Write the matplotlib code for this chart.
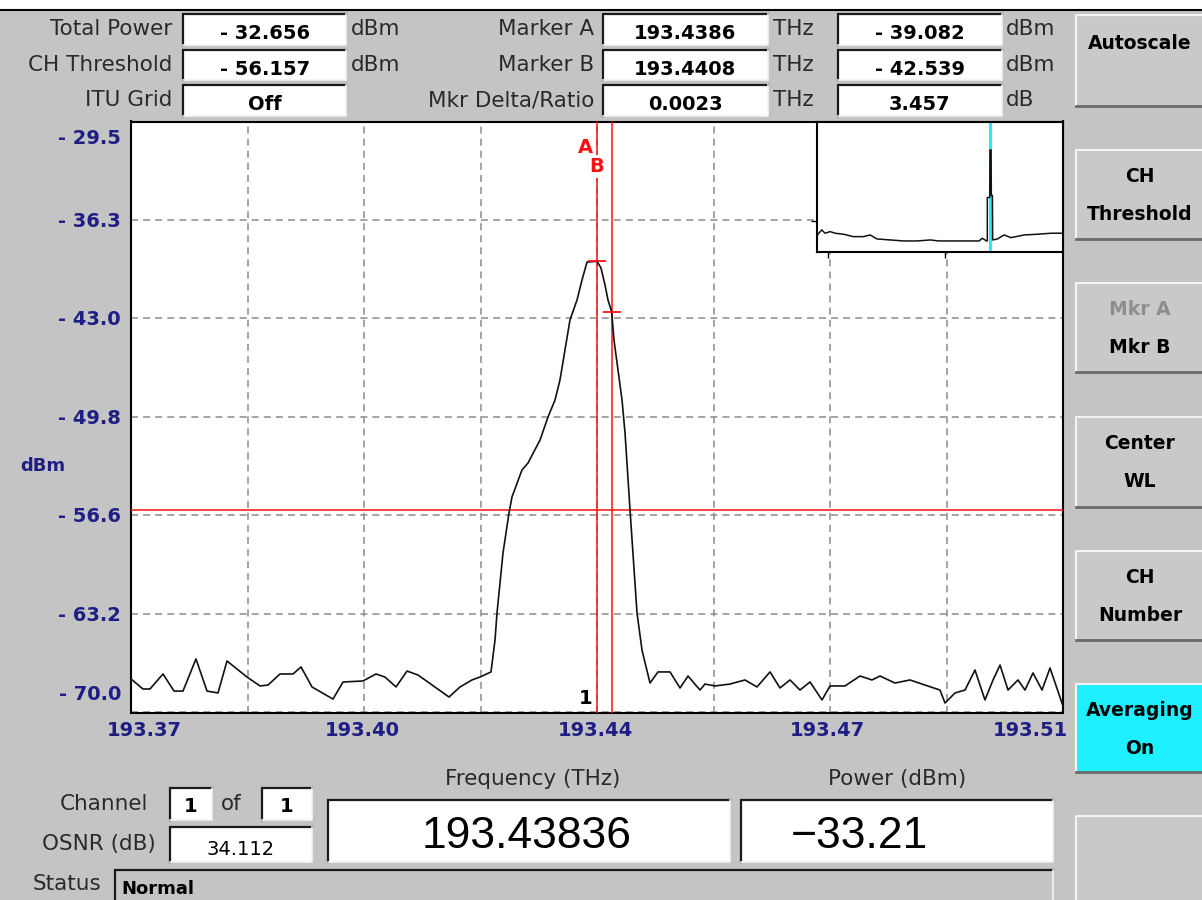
import numpy as np
import matplotlib
matplotlib.use("Agg")
import matplotlib.pyplot as plt
from matplotlib.patches import Rectangle
from matplotlib import transforms as mtrans

# ---------------------------------------------------------------- data ----
# Zoomed channel trace
freq_thz = [
    193.36860, 193.37040, 193.37145, 193.37341, 193.37506, 193.37641, 193.37836,
    193.38002, 193.38167, 193.38302, 193.38602, 193.38798, 193.38918, 193.39098,
    193.39293, 193.39414, 193.39579, 193.39894, 193.40045, 193.40345, 193.40540,
    193.40675, 193.40841, 193.41006, 193.41171, 193.41637, 193.41802, 193.41982,
    193.42103, 193.42268, 193.42328, 193.42358, 193.42448, 193.42538, 193.42583,
    193.42733, 193.42824, 193.43004, 193.43124, 193.43229, 193.43304, 193.43379,
    193.43454, 193.43560, 193.43635, 193.43710, 193.43860, 193.43920, 193.43980,
    193.44025, 193.44080, 193.44115, 193.44236, 193.44281, 193.44356, 193.44461,
    193.44536, 193.44656, 193.44776, 193.44957, 193.45107, 193.45227, 193.45407,
    193.45482, 193.45633, 193.45858, 193.46083, 193.46263, 193.46459, 193.46609,
    193.46759, 193.46909, 193.47060, 193.47240, 193.47360, 193.47585, 193.47811,
    193.47991, 193.48111, 193.48336, 193.48562, 193.48787, 193.49012, 193.49088,
    193.49238, 193.49388, 193.49538, 193.49688, 193.49809, 193.49914, 193.50034,
    193.50184, 193.50289, 193.50409, 193.50545, 193.50665, 193.50860,
]
power_dbm = [
    -67.70, -68.39, -68.39, -67.36, -68.53, -68.53, -66.33,
    -68.53, -68.66, -66.47, -67.57, -68.18, -68.12, -67.36,
    -67.36, -66.88, -68.25, -69.08, -67.91, -67.84, -67.36,
    -67.57, -68.25, -67.16, -67.43, -68.94, -68.25, -67.77,
    -67.57, -67.22, -65.03, -63.18, -59.07, -56.33, -55.23,
    -53.38, -52.90, -51.33, -49.75, -48.59, -47.21, -45.16,
    -43.10, -41.73, -40.36, -39.13, -39.08, -39.54, -40.70,
    -41.73, -42.54, -44.47, -48.59, -50.85, -56.12, -63.18,
    -65.72, -67.98, -67.22, -67.22, -68.32, -67.50, -68.46,
    -68.05, -68.18, -68.05, -67.77, -68.25, -67.22, -68.32,
    -67.77, -68.46, -67.91, -69.14, -68.18, -68.18, -67.50,
    -67.77, -67.50, -67.98, -67.77, -68.12, -68.46, -69.35,
    -68.66, -68.46, -67.09, -69.14, -67.77, -66.75, -68.46,
    -67.77, -68.46, -67.29, -68.46, -66.95, -69.56,
]

# Full-band overview trace
overview_freq = [
    186.96, 187.13, 187.25, 187.44, 187.63, 187.94, 188.31, 188.69, 188.94,
    189.19, 189.69, 190.19, 190.69, 191.19, 191.50, 191.94, 192.44, 193.01,
    193.13, 193.29, 193.32, 193.32, 193.41, 193.42, 193.46, 193.47, 193.51,
    193.52, 193.70, 193.95, 194.20, 194.70, 195.20, 195.70, 196.14,
]
overview_power = [
    -68.85, -66.74, -68.13, -67.46, -68.13, -68.55, -69.56, -69.56, -68.85,
    -70.53, -70.95, -71.37, -71.37, -70.95, -71.37, -71.37, -71.37, -71.37,
    -70.24, -71.37, -71.37, -53.15, -53.15, -33.21, -33.21, -52.30, -52.30,
    -70.95, -70.53, -68.85, -69.98, -68.85, -68.55, -68.13, -68.13,
]
overview_range = (186.95, 196.15)
overview_db_range = (-76.0, -21.3)

# Display scale
center_thz = 193.4386
span_thz = 0.14
top_dbm = -29.5
bottom_dbm = -70.0
x_tick_labels = ["193.37", "193.40", "193.44", "193.47", "193.51"]
y_tick_labels = ["- 29.5", "- 36.3", "- 43.0", "- 49.8", "- 56.6", "- 63.2", "- 70.0"]

# Readouts
total_power = -32.656
ch_threshold = -56.157
itu_grid = "Off"
marker_names = ["A", "B"]
marker_freq = [193.4386, 193.4408]
marker_power = [-39.082, -42.539]
marker_delta_thz = 0.0023
marker_ratio_db = 3.457
channel_index = 1
channel_count = 1
channel_freq = 193.43836
channel_power = -33.21
osnr_db = 34.112
status_text = "Normal"
soft_keys = [["Autoscale"], ["CH", "Threshold"], ["Mkr A", "Mkr B"],
             ["Center", "WL"], ["CH", "Number"], ["Averaging", "On"], []]
active_key = 5

# -------------------------------------------------------------- styling ---
W, H = 1202, 900
BG = "#c4c4c4"
KEY = "#c9c9c9"
NAVY = "#1e1e84"
RED = "#ff1010"
CYAN = "#1ff0ff"
TXT = "#2a2a2a"
LABEL_PT = 15.5

plt.rcParams["font.family"] = ["DejaVu Sans"]


def fmt_signed(v, nd):
    return f"- {abs(v):.{nd}f}" if v < 0 else f"{v:.{nd}f}"


fig = plt.figure(figsize=(W / 100, H / 100), dpi=100, facecolor=BG)
ui = fig.add_axes([0, 0, 1, 1], zorder=0)
ui.set_xlim(0, W)
ui.set_ylim(H, 0)
ui.axis("off")

# title strip
ui.add_patch(Rectangle((0, 0), W, 9, fc="white", ec="none"))
ui.plot([0, W], [10, 10], color="black", lw=1.5)


def sunken(x0, y0, x1, y1, fc="white"):
    ui.add_patch(Rectangle((x0, y0), x1 - x0, y1 - y0, fc=fc, ec="none", zorder=1))
    ui.plot([x0, x0, x1], [y1, y0, y0], color="#1a1a1a", lw=1.6, zorder=2,
            solid_joinstyle="miter")
    ui.plot([x0, x1, x1], [y1, y1, y0], color="#f2f2f2", lw=1.2, zorder=2)


def raised(x0, y0, x1, y1, fc):
    ui.add_patch(Rectangle((x0, y0), x1 - x0, y1 - y0, fc=fc, ec="none", zorder=1))
    ui.plot([x0, x0, x1], [y1, y0, y0], color="#f4f4f4", lw=1.5, zorder=2)
    ui.plot([x0, x1, x1], [y1, y1, y0], color="#6a6a6a", lw=2.0, zorder=2)


def put(x, y, s, ha="left", size=LABEL_PT, weight="normal", color=TXT, family=None):
    kw = {}
    if family:
        kw["family"] = family
    ui.text(x, y, s, ha=ha, va="baseline", fontsize=size, fontweight=weight,
            color=color, zorder=3, **kw)


# header readouts
rows = [(14, 45), (50, 80), (85, 116)]
left_labels = ["Total Power", "CH Threshold", "ITU Grid"]
left_values = [fmt_signed(total_power, 3), fmt_signed(ch_threshold, 3), itu_grid]
left_units = ["dBm", "dBm", ""]
mid_labels = ["Marker A", "Marker B", "Mkr Delta/Ratio"]
mid_values = [f"{marker_freq[0]:.4f}", f"{marker_freq[1]:.4f}", f"{marker_delta_thz:.4f}"]
right_values = [fmt_signed(marker_power[0], 3), fmt_signed(marker_power[1], 3),
                f"{marker_ratio_db:.3f}"]
right_units = ["dBm", "dBm", "dB"]
for i, (y0, y1) in enumerate(rows):
    lab_base = y0 + 21
    val_base = y0 + 25
    put(172, lab_base, left_labels[i], ha="right")
    sunken(183, y0, 346, y1)
    put(265, val_base, left_values[i], ha="center", size=14, weight="bold", color="black")
    if left_units[i]:
        put(351, lab_base, left_units[i])
    put(594, lab_base, mid_labels[i], ha="right")
    sunken(603, y0, 768, y1)
    put(685, val_base, mid_values[i], ha="center", size=14, weight="bold", color="black")
    put(773, lab_base, "THz")
    sunken(838, y0, 1002, y1)
    put(920, val_base, right_values[i], ha="center", size=14, weight="bold", color="black")
    put(1006, lab_base, right_units[i])

# soft keys
key_rows = [(15, 106), (150, 239), (283, 372), (417, 507), (551, 640), (684, 772), (816, 910)]
for k, (y0, y1) in enumerate(key_rows):
    raised(1076, y0, 1204, y1, CYAN if k == active_key else KEY)
    lines = soft_keys[k]
    if len(lines) == 1:
        put(1140, (y0 + 27) + 7, lines[0], ha="center", size=13.5, weight="bold", color="black")
    elif len(lines) == 2:
        for j, s in enumerate(lines):
            col = "#8e8e8e" if s == "Mkr A" else "black"
            put(1140, y0 + 32 + j * 38, s, ha="center", size=13.5, weight="bold", color=col)

# bottom readouts
put(148, 810, "Channel", ha="right")
sunken(170, 788, 212, 820)
put(191, 812, f"{channel_index}", ha="center", size=14, weight="bold", color="black")
put(221, 810, "of")
sunken(262, 788, 312, 820)
put(287, 812, f"{channel_count}", ha="center", size=14, weight="bold", color="black")
put(156, 850, "OSNR (dB)", ha="right")
sunken(170, 827, 312, 862)
put(241, 855, f"{osnr_db:.3f}", ha="center", size=14, color="black")
put(533, 785, "Frequency (THz)", ha="center")
sunken(328, 800, 730, 862)
put(527, 848, f"{channel_freq:.5f}", ha="center", size=32, color="black",
    family="Liberation Sans")
put(897, 785, "Power (dBm)", ha="center")
sunken(741, 800, 1053, 862)
put(859, 848, f"\u2212{abs(channel_power):.2f}", ha="center", size=32, color="black",
    family="Liberation Sans")
put(33, 890, "Status")
sunken(115, 870, 1053, 912, fc=BG)
put(121, 894, status_text, size=13, weight="bold", color="black")

# y-axis unit
put(43, 471, "dBm", ha="center", size=13, weight="bold", color=NAVY)

# ------------------------------------------------------------- spectrum ---
L, R, T, B = 131, 1063, 121.5, 712.5
ax = fig.add_axes([L / W, 1 - B / H, (R - L) / W, (B - T) / H], zorder=2)
ax.set_facecolor("white")
x0, x1 = center_thz - span_thz / 2, center_thz + span_thz / 2
ax.set_xlim(x0, x1)
ax.set_ylim(bottom_dbm, top_dbm)
ax.set_xticks(np.linspace(x0, x1, 9))
ax.set_yticks(np.linspace(top_dbm, bottom_dbm, 7))
ax.tick_params(length=0, labelbottom=False, labelleft=False)
ax.grid(True, color="#8c8c8c", linestyle=(0, (4.6, 3.3)), linewidth=1.1)
for sp in ax.spines.values():
    sp.set_color("black")
    sp.set_linewidth(1.5)

ax.axhline(ch_threshold, color=RED, lw=1.1, zorder=3)
for f in marker_freq:
    ax.axvline(f, color=RED, lw=1.1, zorder=3)
ax.plot(freq_thz, power_dbm, color="#111111", lw=1.2, zorder=4)
ax.plot(marker_freq, marker_power, linestyle="none", marker="_", ms=13, mew=1.3,
        color=RED, zorder=5)

blend = mtrans.blended_transform_factory(ax.transData, ax.transAxes)
label_dx = [13, -1.5, -1.5, -2.5, -33]
xt = np.linspace(x0, x1, 5)
for v, s, dx in zip(xt, x_tick_labels, label_dx):
    ax.text(v, 0, s, transform=mtrans.offset_copy(blend, fig=fig, x=dx, y=-23.5, units="dots"),
            ha="center", va="baseline", fontsize=14, fontweight="bold", color=NAVY, clip_on=False)

blend_y = mtrans.blended_transform_factory(ax.transAxes, ax.transData)
yt = np.linspace(top_dbm, bottom_dbm, 7)
label_dy = [-22.5, -7, -7, -7, -7, -7, 12.5]
for v, s, dy in zip(yt, y_tick_labels, label_dy):
    ax.text(0, v, s, transform=mtrans.offset_copy(blend_y, fig=fig, x=-10, y=dy, units="dots"),
            ha="right", va="baseline", fontsize=14, fontweight="bold", color=NAVY, clip_on=False)

# marker letters and channel number
ax.text(marker_freq[0], 1, marker_names[0],
        transform=mtrans.offset_copy(blend, fig=fig, x=-11.5, y=-31.5, units="dots"),
        ha="center", va="baseline", fontsize=14, fontweight="bold", color=RED, zorder=6)
ax.text(marker_freq[1], 1, marker_names[1],
        transform=mtrans.offset_copy(blend, fig=fig, x=-15, y=-50.5, units="dots"),
        ha="center", va="baseline", fontsize=14, fontweight="bold", color=RED, zorder=6,
        bbox=dict(boxstyle="square,pad=0.08", fc="white", ec="none"))
ax.text(channel_freq, 0, f"{channel_index}",
        transform=mtrans.offset_copy(blend, fig=fig, x=-10, y=8.5, units="dots"),
        ha="center", va="baseline", fontsize=14, fontweight="bold", color="black", zorder=6)

# ------------------------------------------------------------- overview ---
IL, IR, IT, IB = 817, 1063, 121.5, 252
ins = fig.add_axes([IL / W, 1 - IB / H, (IR - IL) / W, (IB - IT) / H], zorder=3)
ins.set_facecolor("white")
ins.set_xlim(*overview_range)
ins.set_ylim(*overview_db_range)
ins.axvspan(x0, x1, color=CYAN, lw=0, zorder=1)
ins.plot(overview_freq, overview_power, color="#111111", lw=1.1, zorder=2)
ins.set_xticks([187.36, 191.72])
ins.set_yticks([-63.0])
ins.tick_params(direction="out", length=4, width=1, color="black",
                labelbottom=False, labelleft=False)
for sp in ins.spines.values():
    sp.set_color("black")
    sp.set_linewidth(1.5)

fig.savefig("out.png", dpi=100, facecolor=BG)
